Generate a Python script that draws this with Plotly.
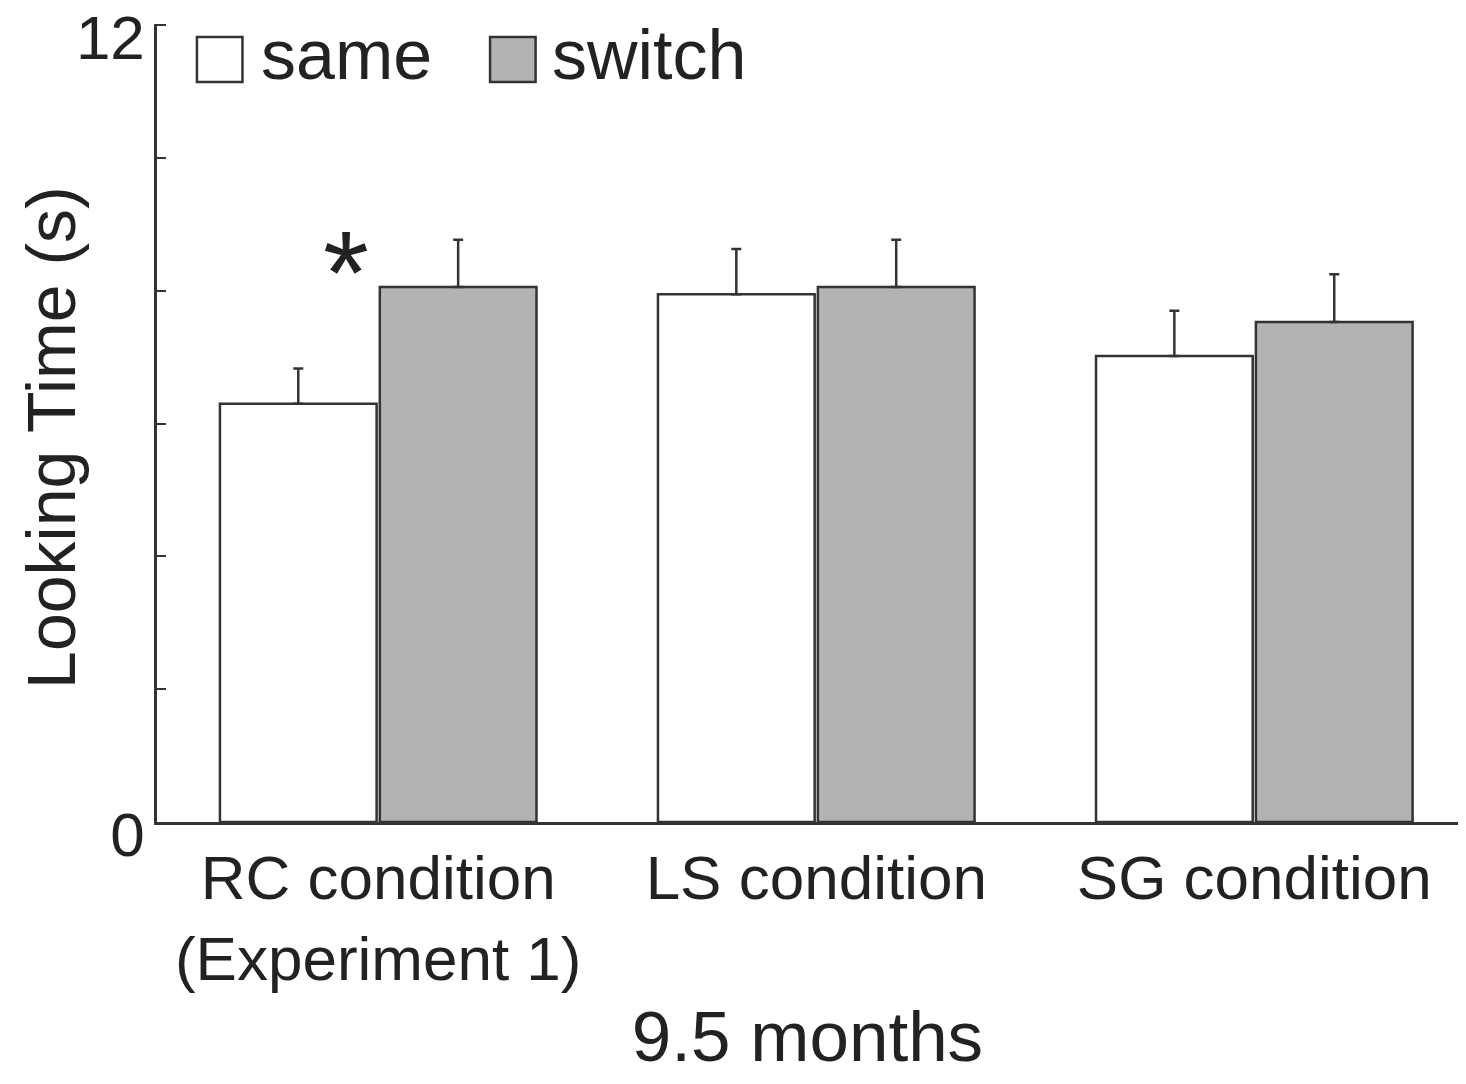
import plotly.graph_objects as go

# values (seconds)
conditions = ["RC condition<br>(Experiment 1)", "LS condition", "SG condition"]
same_mean = [6.3, 7.95, 7.02]
same_err = [0.53, 0.68, 0.68]
switch_mean = [8.06, 8.06, 7.53]
switch_err = [0.71, 0.71, 0.72]
y_ticks = [0, 2, 4, 6, 8, 10, 12]
y_ticktext = ["0", "", "", "", "", "", "12"]

ink = "#333333"
font = "Liberation Sans, Arial, Helvetica, sans-serif"

fig = go.Figure()
fig.add_trace(go.Bar(
    name="same", x=conditions, y=same_mean,
    marker=dict(color="white", line=dict(color=ink, width=2.5)),
    error_y=dict(type="data", array=same_err, symmetric=False, arrayminus=[0, 0, 0],
                 color=ink, thickness=2.5, width=5),
))
fig.add_trace(go.Bar(
    name="switch", x=conditions, y=switch_mean,
    marker=dict(color="#b3b3b3", line=dict(color=ink, width=2.5)),
    error_y=dict(type="data", array=switch_err, symmetric=False, arrayminus=[0, 0, 0],
                 color=ink, thickness=2.5, width=5),
))

# page body adds 8px around the figure, so the figure is 16px smaller than the window
fig.update_layout(
    width=1450, height=1068,
    margin=dict(l=149, r=0, t=16, b=254),
    paper_bgcolor="white", plot_bgcolor="white",
    barmode="group", bargap=0.27, bargroupgap=0.02,
    showlegend=False,
    font=dict(family=font, color="#222222", size=62),
)
fig.update_xaxes(
    range=[-0.505, 2.465], showline=True, linecolor=ink, linewidth=2.5,
    ticks="", showgrid=False, tickfont=dict(size=62), automargin=False,
    title=dict(text="9.5 months", font=dict(size=71), standoff=42),
)
fig.update_yaxes(
    range=[0, 12.02], showline=True, linecolor=ink, linewidth=2.5,
    tickvals=y_ticks, ticktext=y_ticktext, ticks="inside", ticklen=9,
    tickwidth=2, tickcolor=ink, showgrid=False, zeroline=False,
    tickfont=dict(size=62), ticklabelstandoff=-3, ticklabelshift=12,
    ticklabeloverflow="allow", automargin=False,
)

# y-axis title placed as an annotation so it sits where the original has it
fig.add_annotation(
    text="Looking Time (s)", textangle=-90, xref="paper", yref="paper",
    x=-0.0815, y=0.4825, xanchor="center", yanchor="middle",
    showarrow=False, font=dict(size=68),
)

# significance marker between the RC bars
fig.add_annotation(
    text="*", x=conditions[0], y=switch_mean[0], xref="x", yref="y",
    xshift=-32, yshift=14, yanchor="middle", showarrow=False, font=dict(size=118),
)

# legend drawn by hand so the swatches can be as large as the original ones
legend_items = [("same", "white", 0.0307, 0.0785), ("switch", "#b3b3b3", 0.2560, 0.3022)]
for label, color, x0, xt in legend_items:
    fig.add_shape(type="rect", xref="paper", yref="paper",
                  x0=x0, x1=x0 + 0.035, y0=0.9273, y1=0.9837,
                  fillcolor=color, line=dict(color=ink, width=2.5))
    fig.add_annotation(text=label, xref="paper", yref="paper", x=xt, y=0.961,
                       xanchor="left", yanchor="middle", showarrow=False,
                       font=dict(size=70))

fig.write_html("out.html")
